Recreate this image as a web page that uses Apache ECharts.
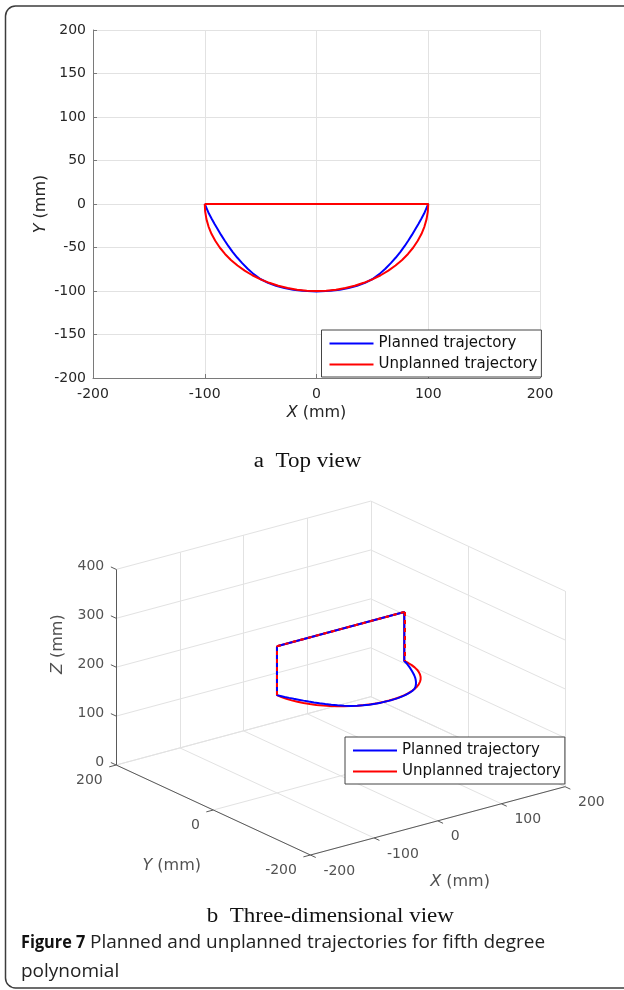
<!DOCTYPE html>
<html><head><meta charset="utf-8">
<script src="https://cdn.jsdelivr.net/npm/echarts@6/dist/echarts.min.js"></script>
<style>html,body{margin:0;padding:0;background:#fff}#c{width:624px;height:990px}</style>
</head><body><div id="c"></div>
<script>
// ================= DATA =================
const seriesNames = ['Planned trajectory', 'Unplanned trajectory'];

// Top view axis ticks
const xTicksTop = [-200, -100, 0, 100, 200];
const yTicksTop = [-200, -150, -100, -50, 0, 50, 100, 150, 200];

// 3-D view axis ticks
const xTicks3d = [-200, -100, 0, 100, 200];
const yTicks3d = [-200, 0, 200];
const zTicks3d = [0, 100, 200, 300, 400];

// Planned trajectory (mm)
const plannedX = [-100, 100, 100, 98.3, 96.3, 93.8, 91.2, 88.4, 85.4, 82.2, 78.8, 75.1, 71.0, 66.5, 61.6, 56.2, 50.2, 43.4, 36.3, 28.7, 20.8, 12.6, 4.2, 0,
  -4.2, -12.6, -20.8, -28.7, -36.3, -43.4, -50.2, -56.2, -61.6, -66.5, -71.0, -75.1, -78.8, -82.2, -85.4, -88.4, -91.2, -93.8, -96.3, -98.3, -100, -100];
const plannedY = [0, 0, 0, -5, -11, -17, -23, -29, -35.5, -42, -48.5, -55, -61.5, -68, -74.4, -80.6, -86.2, -90.6, -93.9, -96.5, -98.5, -99.8, -100.4, -100.5,
  -100.4, -99.8, -98.5, -96.5, -93.9, -90.6, -86.2, -80.6, -74.4, -68, -61.5, -55, -48.5, -42, -35.5, -29, -23, -17, -11, -5, 0, 0];
const plannedZ = [300, 300, 200, 200, 200, 200, 200, 200, 200, 200, 200, 200, 200, 200, 200, 200, 200, 200, 200, 200, 200, 200, 200, 200,
  200, 200, 200, 200, 200, 200, 200, 200, 200, 200, 200, 200, 200, 200, 200, 200, 200, 200, 200, 200, 200, 300];

// Unplanned trajectory (mm)
const unplannedX = [-100, 100, 100, 99.6, 98.5, 96.6, 94.0, 90.6, 86.6, 81.9, 76.6, 70.7, 64.3, 57.4, 50.0, 42.3, 34.2, 25.9, 17.4, 8.7, 0,
  -8.7, -17.4, -25.9, -34.2, -42.3, -50.0, -57.4, -64.3, -70.7, -76.6, -81.9, -86.6, -90.6, -94.0, -96.6, -98.5, -99.6, -100, -100];
const unplannedY = [0, 0, 0, -8.7, -17.4, -25.9, -34.2, -42.3, -50.0, -57.4, -64.3, -70.7, -76.6, -81.9, -86.6, -90.6, -94.0, -96.6, -98.5, -99.6, -100,
  -99.6, -98.5, -96.6, -94.0, -90.6, -86.6, -81.9, -76.6, -70.7, -64.3, -57.4, -50.0, -42.3, -34.2, -25.9, -17.4, -8.7, 0, 0];
const unplannedZ = [300, 300, 200, 200, 200, 200, 200, 200, 200, 200, 200, 200, 200, 200, 200, 200, 200, 200, 200, 200, 200,
  200, 200, 200, 200, 200, 200, 200, 200, 200, 200, 200, 200, 200, 200, 200, 200, 200, 200, 300];

// Text
const captionA = 'a  Top view';
const captionB = 'b  Three-dimensional view';
const figLabel = 'Figure 7';
const figLine1 = 'Planned and unplanned trajectories for fifth degree';
const figLine2 = 'polynomial';

// ================= LAYOUT / STYLE =================
const W = 624, H = 990;
const FONT = 'DejaVu Sans';
const TXT = '#262626';
const AX = '#7a7a7a';
const GRIDC = '#e2e2e2';
const BLUE = '#0000ff', RED = '#ff0000';
const gridTop = {left: 93, top: 30, width: 447, height: 348};
const proj = {ox: 310.4, oy: 855, ex: [0.6366, -0.1708], ey: [-0.4855, -0.225], ez: [0, -0.489]};

const xMin = xTicks3d[0], xMax = xTicks3d[xTicks3d.length - 1];
const yMin = yTicks3d[0], yMax = yTicks3d[yTicks3d.length - 1];
const zMin = zTicks3d[0], zMax = zTicks3d[zTicks3d.length - 1];
function P(x, y, z) {
  const dx = x - xMin, dy = y - yMin, dz = z - zMin;
  return [proj.ox + dx * proj.ex[0] + dy * proj.ey[0] + dz * proj.ez[0],
          proj.oy + dx * proj.ex[1] + dy * proj.ey[1] + dz * proj.ez[1]];
}

// 3-D gridlines on back walls and floor
const grid3 = [];
xTicks3d.forEach(x => grid3.push([P(x, yMax, zMin), P(x, yMax, zMax)]));
zTicks3d.forEach(z => grid3.push([P(xMin, yMax, z), P(xMax, yMax, z)]));
yTicks3d.forEach(y => grid3.push([P(xMax, y, zMin), P(xMax, y, zMax)]));
zTicks3d.forEach(z => grid3.push([P(xMax, yMin, z), P(xMax, yMax, z)]));
xTicks3d.forEach(x => grid3.push([P(x, yMin, zMin), P(x, yMax, zMin)]));
yTicks3d.forEach(y => grid3.push([P(xMin, y, zMin), P(xMax, y, zMin)]));

const axes3 = [
  [P(xMin, yMax, zMin), P(xMin, yMax, zMax)],
  [P(xMin, yMin, zMin), P(xMin, yMax, zMin)],
  [P(xMin, yMin, zMin), P(xMax, yMin, zMin)]
];
const tk = 11;
zTicks3d.forEach(z => axes3.push([P(xMin, yMax, z), P(xMin, yMax + tk, z)]));
yTicks3d.forEach(y => axes3.push([P(xMin, y, zMin), P(xMin - tk, y, zMin)]));
xTicks3d.forEach(x => axes3.push([P(x, yMin, zMin), P(x, yMin - tk, zMin)]));

function lbl(pt, text, dx, dy, align, extra) {
  return {value: pt, label: Object.assign({show: true, formatter: text, position: [dx + 0.5, dy + 0.5],
    align: align, verticalAlign: 'middle', fontFamily: FONT, fontSize: 14, color: TXT}, extra || {})};
}
const richI = {i: {fontFamily: FONT, fontSize: 16, fontStyle: 'italic', color: TXT}};
const labels3 = [];
zTicks3d.forEach(z => labels3.push(lbl(P(xMin, yMax, z), String(z), -12, -3, 'right')));
yTicks3d.forEach(y => labels3.push(lbl(P(xMin, y, zMin), String(y), -13.5, 15.5, 'right')));
xTicks3d.forEach(x => labels3.push(lbl(P(x, yMin, zMin), String(x), 13, 16, 'left')));
labels3.push(lbl(P(xMin, yMax, (zMin + zMax) / 2), '{i|Z} (mm)', -58, -23, 'center', {rotate: 90, fontSize: 16, rich: richI}));
labels3.push(lbl(P(xMin, (yMin + yMax) / 2, zMin), '{i|Y} (mm)', -41.6, 56, 'center', {fontSize: 16, rich: richI}));
labels3.push(lbl(P((xMin + xMax) / 2, yMin, zMin), '{i|X} (mm)', 22.3, 61, 'center', {fontSize: 16, rich: richI}));

const pts2 = (X, Y) => X.map((x, i) => [x, Y[i]]);
const pts3 = (X, Y, Z) => X.map((x, i) => P(x, Y[i], Z[i]));
// straight (y = 0) segments of the unplanned path, drawn as an overlay to show the overlap
const overlay = [];
for (let i = 0; i < unplannedX.length - 1; i++) {
  if (unplannedY[i] === 0 && unplannedY[i + 1] === 0) {
    overlay.push({coords: [P(unplannedX[i], unplannedY[i], unplannedZ[i]), P(unplannedX[i + 1], unplannedY[i + 1], unplannedZ[i + 1])]});
  }
}

const axisCommon = {
  type: 'value', gridIndex: 0,
  axisLine: {show: true, onZero: false, lineStyle: {color: AX, width: 1}},
  axisTick: {show: true, inside: true, length: 4, lineStyle: {color: AX}},
  splitLine: {show: true, lineStyle: {color: GRIDC, width: 1}},
  nameLocation: 'middle',
  nameMoveOverlap: false,
  nameTextStyle: {fontFamily: FONT, fontSize: 16, color: TXT, verticalAlign: 'middle', rich: richI}
};

const legendCommon = {
  orient: 'vertical', data: seriesNames, icon: 'rect', itemWidth: 44, itemHeight: 2,
  itemGap: 6, padding: [6, 4, 5, 8], backgroundColor: '#fff', borderColor: '#444', borderWidth: 1,
  borderRadius: 0, textStyle: {fontFamily: FONT, fontSize: 15, color: '#111'}, selectedMode: false, z: 20
};

const option = {
  animation: false,
  backgroundColor: '#fff',
  grid: [
    Object.assign({containLabel: false}, gridTop),
    {left: 0, top: 0, width: W, height: H}
  ],
  xAxis: [
    Object.assign({}, axisCommon, {min: xTicksTop[0], max: xTicksTop[xTicksTop.length - 1], interval: xTicksTop[1] - xTicksTop[0],
      axisLabel: {margin: 9, fontFamily: FONT, fontSize: 14, color: TXT},
      name: '{i|X} (mm)', nameGap: 35}),
    {type: 'value', gridIndex: 1, min: 0, max: W, show: false}
  ],
  yAxis: [
    Object.assign({}, axisCommon, {min: yTicksTop[0], max: yTicksTop[yTicksTop.length - 1], interval: yTicksTop[1] - yTicksTop[0],
      axisLabel: {margin: 7, fontFamily: FONT, fontSize: 14, color: TXT},
      name: '{i|Y} (mm)', nameGap: 52}),
    {type: 'value', gridIndex: 1, min: 0, max: H, inverse: true, show: false}
  ],
  legend: [
    Object.assign({}, legendCommon, {left: 321.5, top: 330}),
    Object.assign({}, legendCommon, {left: 345, top: 737})
  ],
  series: [
    // top view
    {name: seriesNames[0], type: 'line', xAxisIndex: 0, yAxisIndex: 0, data: pts2(plannedX, plannedY), showSymbol: false,
      lineStyle: {color: BLUE, width: 2}, itemStyle: {color: BLUE}, z: 3, silent: true},
    {name: seriesNames[1], type: 'line', xAxisIndex: 0, yAxisIndex: 0, data: pts2(unplannedX, unplannedY), showSymbol: false,
      lineStyle: {color: RED, width: 2}, itemStyle: {color: RED}, z: 4, silent: true},
    // 3-D view frame
    {name: 'grid3', type: 'lines', coordinateSystem: 'cartesian2d', xAxisIndex: 1, yAxisIndex: 1, silent: true,
      data: grid3.map(c => ({coords: c})), lineStyle: {color: GRIDC, width: 1, opacity: 1}, z: 1},
    {name: 'axes3', type: 'lines', coordinateSystem: 'cartesian2d', xAxisIndex: 1, yAxisIndex: 1, silent: true,
      data: axes3.map(c => ({coords: c})), lineStyle: {color: '#5a5a5a', width: 1, opacity: 1}, z: 2},
    {name: 'labels3', type: 'scatter', xAxisIndex: 1, yAxisIndex: 1, symbolSize: 1, silent: true,
      itemStyle: {color: 'rgba(0,0,0,0)'}, data: labels3, z: 2},
    // 3-D trajectories
    {name: seriesNames[1], type: 'line', xAxisIndex: 1, yAxisIndex: 1, data: pts3(unplannedX, unplannedY, unplannedZ), showSymbol: false,
      lineStyle: {color: RED, width: 2}, itemStyle: {color: RED}, z: 3, silent: true},
    {name: seriesNames[0], type: 'line', xAxisIndex: 1, yAxisIndex: 1, data: pts3(plannedX, plannedY, plannedZ), showSymbol: false,
      lineStyle: {color: BLUE, width: 2}, itemStyle: {color: BLUE}, z: 4, silent: true},
    {name: 'overlap', type: 'lines', coordinateSystem: 'cartesian2d', xAxisIndex: 1, yAxisIndex: 1, silent: true,
      data: overlay, lineStyle: {color: RED, width: 2, type: [4, 4], opacity: 1}, z: 5}
  ],
  graphic: [
    {type: 'rect', shape: {x: 5.5, y: 6, width: 640, height: 982, r: 10}, style: {fill: 'none', stroke: '#3c3c3c', lineWidth: 1.5}, silent: true},
    {type: 'text', x: 307.6, y: 462, scaleX: 1.15, style: {text: captionA, fontFamily: 'Liberation Serif', fontSize: 20, fill: '#111', align: 'center', verticalAlign: 'middle'}},
    {type: 'text', x: 330.3, y: 917, scaleX: 1.15, style: {text: captionB, fontFamily: 'Liberation Serif', fontSize: 20, fill: '#111', align: 'center', verticalAlign: 'middle'}},
    {type: 'text', x: 21, y: 943, scaleX: 0.88, style: {text: figLabel, fontFamily: 'Open Sans', fontSize: 18.5, fontWeight: 'bold', fill: '#111', verticalAlign: 'middle'}},
    {type: 'text', x: 90, y: 943, style: {text: figLine1, fontFamily: 'Open Sans', fontSize: 19, fill: '#222', verticalAlign: 'middle'}},
    {type: 'text', x: 21, y: 972, style: {text: figLine2, fontFamily: 'Open Sans', fontSize: 19, fill: '#222', verticalAlign: 'middle'}}
  ]
};

const chart = echarts.init(document.getElementById('c'), null, {renderer: 'canvas', width: W, height: H});
chart.setOption(option);
</script>
</body></html>
